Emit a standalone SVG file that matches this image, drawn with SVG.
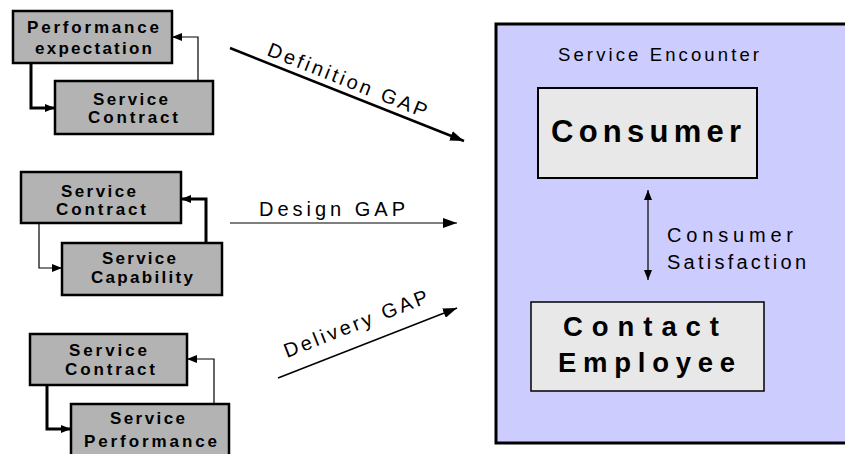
<svg xmlns="http://www.w3.org/2000/svg" width="845" height="454" viewBox="0 0 845 454">
  <style>
    text { font-family: "Liberation Sans", Arial, sans-serif; fill: #000; }
    .box { fill: #B3B3B3; stroke: #000; stroke-width: 2.5; }
    .lbl { font-size: 17px; font-weight: bold; }
    .gap { font-size: 20px; }
    .thick { fill: none; stroke: #000; stroke-width: 3; }
    .thin { fill: none; stroke: #000; stroke-width: 1.2; }
  </style>
  <defs>
    <marker id="arr" markerUnits="userSpaceOnUse" viewBox="0 0 10 8" refX="10" refY="4" markerWidth="10" markerHeight="8" orient="auto-start-reverse">
      <path d="M0,0 L10,4 L0,8 Z" fill="#000"/>
    </marker>
    <marker id="arrBig" markerUnits="userSpaceOnUse" viewBox="0 0 14 10" refX="14" refY="5" markerWidth="14" markerHeight="10" orient="auto">
      <path d="M0,0 L14,5 L0,10 Z" fill="#000"/>
    </marker>
  </defs>

  <!-- Service encounter frame: open on the right, it runs past the page edge -->
  <g id="service-encounter">
    <rect x="496" y="24" width="360" height="419" fill="#CCCCFF"/>
    <path d="M856,24 H496 V443 H856" fill="none" stroke="#000" stroke-width="3"/>
    <text x="558" y="61" font-size="18.5" textLength="201" lengthAdjust="spacing">Service Encounter</text>
  </g>

  <g id="consumer">
    <rect x="538" y="88" width="219" height="90" fill="#E8E8E8" stroke="#000" stroke-width="2"/>
    <text x="551" y="142" font-size="31" font-weight="bold" textLength="190" lengthAdjust="spacing">Consumer</text>
  </g>

  <g id="contact-employee">
    <rect x="531" y="302" width="233" height="89" fill="#E8E8E8" stroke="#000" stroke-width="1.5"/>
    <text x="563" y="336" font-size="27.5" font-weight="bold" textLength="156" lengthAdjust="spacing">Contact</text>
    <text x="558" y="372" font-size="27.5" font-weight="bold" textLength="177" lengthAdjust="spacing">Employee</text>
  </g>

  <!-- Gap group 1 -->
  <g id="performance-expectation">
    <rect class="box" x="13" y="11" width="159" height="52"/>
    <text class="lbl" x="27" y="33" textLength="132" lengthAdjust="spacing">Performance</text>
    <text class="lbl" x="35" y="54" textLength="117" lengthAdjust="spacing">expectation</text>
  </g>
  <g id="service-contract-1">
    <rect class="box" x="55" y="81" width="158" height="53"/>
    <text class="lbl" x="93" y="105" textLength="75" lengthAdjust="spacing">Service</text>
    <text class="lbl" x="88" y="123" textLength="90" lengthAdjust="spacing">Contract</text>
  </g>

  <!-- Gap group 2 -->
  <g id="service-contract-2">
    <rect class="box" x="21" y="172" width="160" height="51"/>
    <text class="lbl" x="61" y="197" textLength="75" lengthAdjust="spacing">Service</text>
    <text class="lbl" x="56" y="215" textLength="90" lengthAdjust="spacing">Contract</text>
  </g>
  <g id="service-capability">
    <rect class="box" x="62" y="243" width="160" height="52"/>
    <text class="lbl" x="102" y="264" textLength="74" lengthAdjust="spacing">Service</text>
    <text class="lbl" x="91" y="283" textLength="102" lengthAdjust="spacing">Capability</text>
  </g>

  <!-- Gap group 3 -->
  <g id="service-contract-3">
    <rect class="box" x="30" y="334" width="157" height="51"/>
    <text class="lbl" x="69" y="356" textLength="78" lengthAdjust="spacing">Service</text>
    <text class="lbl" x="65" y="375" textLength="90" lengthAdjust="spacing">Contract</text>
  </g>
  <g id="service-performance">
    <rect class="box" x="71" y="404" width="158" height="60"/>
    <text class="lbl" x="110" y="424" textLength="75" lengthAdjust="spacing">Service</text>
    <text class="lbl" x="84" y="447" textLength="133" lengthAdjust="spacing">Performance</text>
  </g>

  <!-- Connectors -->
  <g id="connectors">
    <path class="thick" d="M31,63 V108 H55" marker-end="url(#arr)"/>
    <path class="thin" d="M198,81 V37 H172" marker-end="url(#arr)"/>

    <path class="thin" d="M39,223 V268 H62" marker-end="url(#arr)"/>
    <path class="thick" d="M206,243 V199 H181" marker-end="url(#arr)"/>

    <path class="thick" d="M47,385 V429 H71" marker-end="url(#arr)"/>
    <path class="thin" d="M214,404 V359 H187" marker-end="url(#arr)"/>

    <path d="M230,48 L464,141" fill="none" stroke="#000" stroke-width="2.5" marker-end="url(#arrBig)"/>
    <path d="M230,223 H457" fill="none" stroke="#000" stroke-width="1.2" marker-end="url(#arrBig)"/>
    <path d="M278,378 L457,308" fill="none" stroke="#000" stroke-width="1.5" marker-end="url(#arrBig)"/>

    <path d="M648,190 V280" fill="none" stroke="#000" stroke-width="1.2" marker-start="url(#arr)" marker-end="url(#arr)"/>
  </g>

  <!-- Connector labels -->
  <text class="gap" transform="translate(266,55) rotate(21.7)" font-size="21" textLength="170" lengthAdjust="spacing">Definition GAP</text>
  <text class="gap" x="259" y="216" textLength="146" lengthAdjust="spacing">Design GAP</text>
  <text class="gap" transform="translate(287,358) rotate(-21.4)" font-size="21" textLength="153" lengthAdjust="spacing">Delivery GAP</text>
  <text x="667" y="242" font-size="20" textLength="126" lengthAdjust="spacing">Consumer</text>
  <text x="667" y="269" font-size="20" textLength="139" lengthAdjust="spacing">Satisfaction</text>
</svg>
